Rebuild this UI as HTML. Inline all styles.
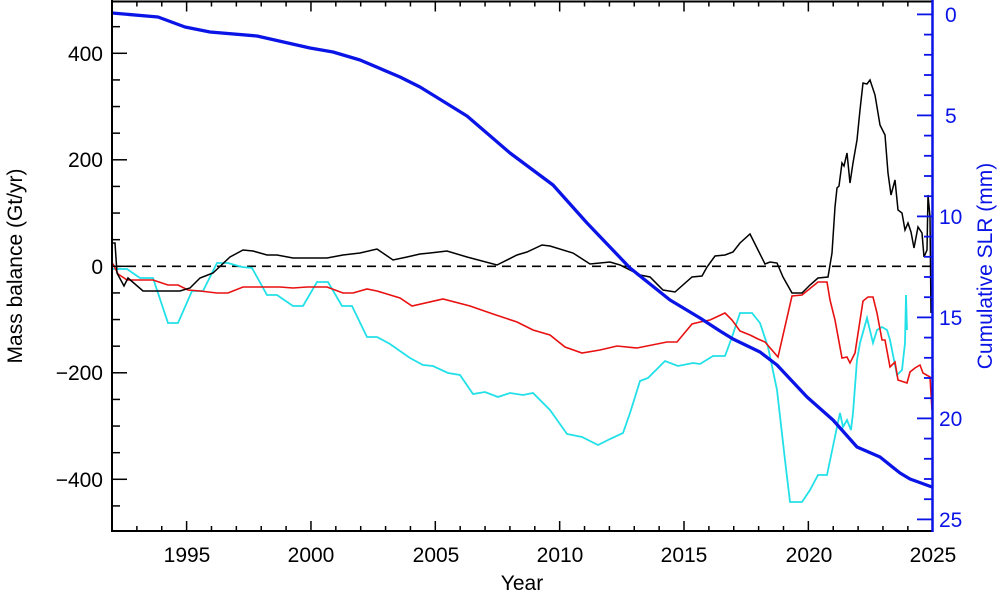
<!DOCTYPE html>
<html><head><meta charset="utf-8"><style>
html,body{margin:0;padding:0;background:#fff;}
svg{display:block;font-family:"Liberation Sans","DejaVu Sans",sans-serif;}
</style></head><body>
<svg width="1001" height="595" viewBox="0 0 1001 595" xmlns="http://www.w3.org/2000/svg">
<rect width="1001" height="595" fill="#fff"/>
<line x1="112" y1="266.3" x2="932" y2="266.3" stroke="#000" stroke-width="1.6" stroke-dasharray="9,6"/>
<polyline fill="none" stroke="#22e0e8" stroke-width="1.8" points="113,269 127,269 140,278 153,278 168,323 178,323 192,291 203,291 217,263 228,263 242,267 252,268 267,295 277,295 293,306 303,306 317,282 328,282 342,306 352,306 367,337 377,337 390,344 410,358 423,365 433,366 448,373 460,375 473,394 485,392 498,397 510,393 523,395 533,393 550,410 567,434 582,437 598,445 610,439 623,433 630,413 640,381 648,378 665,361 678,366 693,363 700,364 713,356 725,356 732,337 740,313 752,313 760,323 768,347 777,390 785,460 790,502 802,502 810,490 818,475 827,475 837,427 840,413 843,427 847,420 851,430 853,413 857,360 860,343 867,318 873,343 877,330 882,327 887,330 890,340 897,375 902,370 905,343 906,295 907,330"/>
<polyline fill="none" stroke="#e81010" stroke-width="1.6" points="112,264 113,264 118,274 127,280 153,280 168,285 178,285 188,290 200,291 217,293 228,293 243,287 280,287 293,288 307,287 327,287 343,293 353,293 367,289 377,291 400,298 412,306 443,299 470,306 493,314 517,322 533,330 550,335 565,347 582,353 600,350 617,346 637,348 667,342 677,342 687,330 692,324 700,322 710,320 725,313 732,320 740,331 750,335 758,339 765,342 778,357 792,296 802,295 818,282 827,282 830,300 835,320 842,358 847,357 850,363 855,353 863,301 868,297 873,297 877,313 882,340 885,340 890,367 895,362 898,380 907,383 910,372 915,368 920,365 923,373 930,377 932,410"/>
<polyline fill="none" stroke="#000" stroke-width="1.5" points="113,243 115,243 117,273 124,286 128,278 143,291 180,291 190,288 200,278 213,273 230,257 243,250 253,251 267,255 277,255 293,258 327,258 343,255 360,253 377,249 393,260 407,257 420,254 430,253 447,251 467,257 497,265 517,255 527,252 542,245 550,246 573,253 590,264 610,262 620,265 640,275 650,277 663,290 675,292 692,277 702,276 707,267 715,256 725,255 733,252 740,243 750,234 758,250 765,264 770,262 777,263 783,277 792,293 802,293 810,285 818,278 828,277 832,253 835,207 837,188 839,186 842,163 844,166 847,153 850,183 853,163 857,140 860,110 863,83 867,84 870,80 875,95 880,125 885,135 888,173 891,195 895,180 898,210 902,213 905,230 908,223 911,232 914,248 918,227 922,233 924,257 927,250 928,195 930,217 931,313"/>
<polyline fill="none" stroke="#0a14e6" stroke-width="3.3" stroke-linejoin="round" points="112,13 158,17 185,27 210,32 257,36 310,48 333,52 360,60 400,77 420,87 433,95 467,116 510,153 553,185 587,223 630,268 670,300 700,318 720,331 733,339 760,352 777,365 807,397 833,420 857,447 880,457 900,473 910,479 932,487"/>
<line x1="112" y1="1.5" x2="932" y2="1.5" stroke="#000" stroke-width="2"/>
<line x1="112" y1="531" x2="932" y2="531" stroke="#000" stroke-width="2"/>
<line x1="112" y1="0" x2="112" y2="532" stroke="#000" stroke-width="2"/>
<line x1="932.5" y1="0" x2="932.5" y2="532" stroke="#0a14e6" stroke-width="2.5"/>
<g id="ticks"></g>
<g font-size="21" fill="#000" text-anchor="end">
<text x="103" y="61">400</text>
<text x="103" y="167">200</text>
<text x="103" y="274">0</text>
<text x="103" y="380">−200</text>
<text x="103" y="487">−400</text>
</g>
<g font-size="21" fill="#000" text-anchor="middle">
<text x="187" y="562">1995</text>
<text x="311" y="562">2000</text>
<text x="436" y="562">2005</text>
<text x="560" y="562">2010</text>
<text x="684" y="562">2015</text>
<text x="809" y="562">2020</text>
<text x="933" y="562">2025</text>
<text x="522" y="590">Year</text>
</g>
<g font-size="21" fill="#0a14e6" text-anchor="start">
<text x="945" y="22">0</text>
<text x="945" y="123">5</text>
<text x="939" y="224">10</text>
<text x="939" y="325">15</text>
<text x="939" y="426">20</text>
<text x="939" y="527">25</text>
</g>
<text transform="translate(22,266) rotate(-90)" font-size="21" text-anchor="middle" fill="#000">Mass balance (Gt/yr)</text>
<text transform="translate(992,266) rotate(-90)" font-size="21" text-anchor="middle" fill="#0a14e6">Cumulative SLR (mm)</text>
</svg>
<script>
(function(){
var g=document.getElementById('ticks'),s='';
function L(x1,y1,x2,y2,c,w){s+='<line x1="'+x1+'" y1="'+y1+'" x2="'+x2+'" y2="'+y2+'" stroke="'+c+'" stroke-width="'+w+'"/>';}
for(var yr=1993;yr<=2024;yr++){var x=112+(yr-1992)*24.87;var maj=(yr%5==0);var l=maj?10:5;L(x,531,x,531-l,'#000',1.5);L(x,1.5,x,1.5+l,'#000',1.5);}
for(var v=-450;v<=450;v+=50){var y=266.3-v*0.5325;var maj=(v%200==0);L(112,y,112+(maj?15:8),y,'#000',1.5);}
for(var m=0;m<=25;m++){var y=14.4+m*20.2;var maj=(m%5==0);L(932,y,932-(maj?15:8),y,'#0a14e6',1.8);}
g.innerHTML=s;
})();
</script>
</body></html>
